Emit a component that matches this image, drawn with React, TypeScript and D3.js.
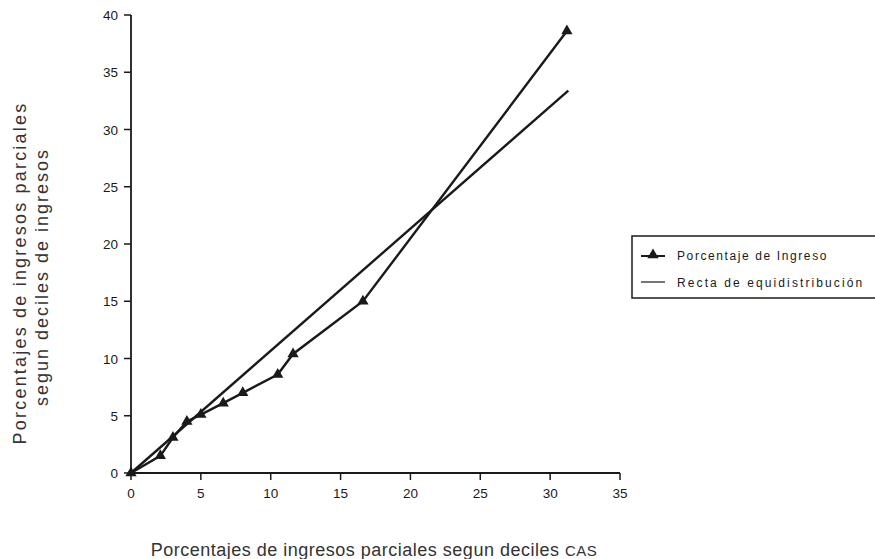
import React from "react";
import * as d3 from "d3";

const incomeX = [0, 2.1, 3.0, 4.0, 5.0, 6.6, 8.0, 10.5, 11.6, 16.6, 31.2];
const incomeY = [0, 1.5, 3.1, 4.5, 5.1, 6.1, 7.0, 8.6, 10.4, 15.0, 38.6];
const equiX = [0, 31.3];
const equiY = [0, 33.4];
const xTicks = [0, 5, 10, 15, 20, 25, 30, 35];
const yTicks = [0, 5, 10, 15, 20, 25, 30, 35, 40];
const legendLabels = ["Porcentaje de Ingreso", "Recta de equidistribución"];
const yTitle = ["Porcentajes de ingresos parciales", "segun deciles de ingresos"];
const xTitle = "Porcentajes de ingresos parciales segun deciles";
const xTitleSuffix = "CAS";

export default function App() {
  const W = 875, H = 559;
  const x = d3.scaleLinear().domain([0, 35]).range([131, 620]);
  const y = d3.scaleLinear().domain([0, 40]).range([473, 15]);
  const line = d3.line<[number, number]>().x(d => x(d[0])).y(d => y(d[1]));
  const incomePts: [number, number][] = incomeX.map((v, i) => [v, incomeY[i]]);
  const equiPts: [number, number][] = equiX.map((v, i) => [v, equiY[i]]);
  const tri = d3.symbol().type(d3.symbolTriangle).size(55)();
  const font = "'Liberation Sans', Arial, sans-serif";
  const ink = "#1a1a1a";
  return (
    <svg width={W} height={H} style={{ position: "absolute", left: 0, top: 0, background: "#fff" }} fontFamily={font}>
      <rect x={0} y={0} width={W} height={H} fill="#fff" />
      {/* axes */}
      <line x1={x(0)} x2={x(0)} y1={y(0)} y2={y(40)} stroke={ink} strokeWidth={1.8} />
      <line x1={x(0)} x2={x(35)} y1={y(0)} y2={y(0)} stroke={ink} strokeWidth={1.8} />
      {yTicks.map(t => (
        <g key={"y" + t}>
          <line x1={x(0) - 7} x2={x(0)} y1={y(t)} y2={y(t)} stroke={ink} strokeWidth={1.5} />
          <text x={x(0) - 13} y={y(t) + 5} textAnchor="end" fontSize={13.5} fill={ink}>{t}</text>
        </g>
      ))}
      {xTicks.map(t => (
        <g key={"x" + t}>
          <line x1={x(t)} x2={x(t)} y1={y(0)} y2={y(0) + 7} stroke={ink} strokeWidth={1.5} />
          <text x={x(t)} y={y(0) + 25} textAnchor="middle" fontSize={13.5} fill={ink}>{t}</text>
        </g>
      ))}
      {/* series */}
      <path d={line(equiPts) || ""} fill="none" stroke={ink} strokeWidth={2.4} />
      <path d={line(incomePts) || ""} fill="none" stroke={ink} strokeWidth={2.4} />
      {incomePts.map((p, i) => (
        <path key={i} d={tri || ""} transform={`translate(${x(p[0])},${y(p[1])})`} fill={ink} />
      ))}
      {/* legend */}
      <rect x={632} y={236} width={260} height={62} fill="#fff" stroke={ink} strokeWidth={1.5} />
      <line x1={641} x2={665} y1={256} y2={256} stroke={ink} strokeWidth={2} />
      <path d={tri || ""} transform="translate(653,255)" fill={ink} />
      <text x={677} y={260} fontSize={12} letterSpacing={1.6} fill={ink}>{legendLabels[0]}</text>
      <line x1={641} x2={665} y1={282} y2={282} stroke={ink} strokeWidth={1.2} />
      <text x={677} y={287} fontSize={12} letterSpacing={2.1} fill={ink}>{legendLabels[1]}</text>
      {/* titles */}
      <text transform="translate(26,273) rotate(-90)" textAnchor="middle" fontSize={18} letterSpacing={2.2} fill="#333">{yTitle[0]}</text>
      <text transform="translate(48,277) rotate(-90)" textAnchor="middle" fontSize={18} letterSpacing={2.0} fill="#333">{yTitle[1]}</text>
      <text x={374} y={556} textAnchor="middle" fontSize={18} letterSpacing={0.5} fill="#333">
        {xTitle} <tspan fontSize={15}>{xTitleSuffix}</tspan>
      </text>
    </svg>
  );
}
